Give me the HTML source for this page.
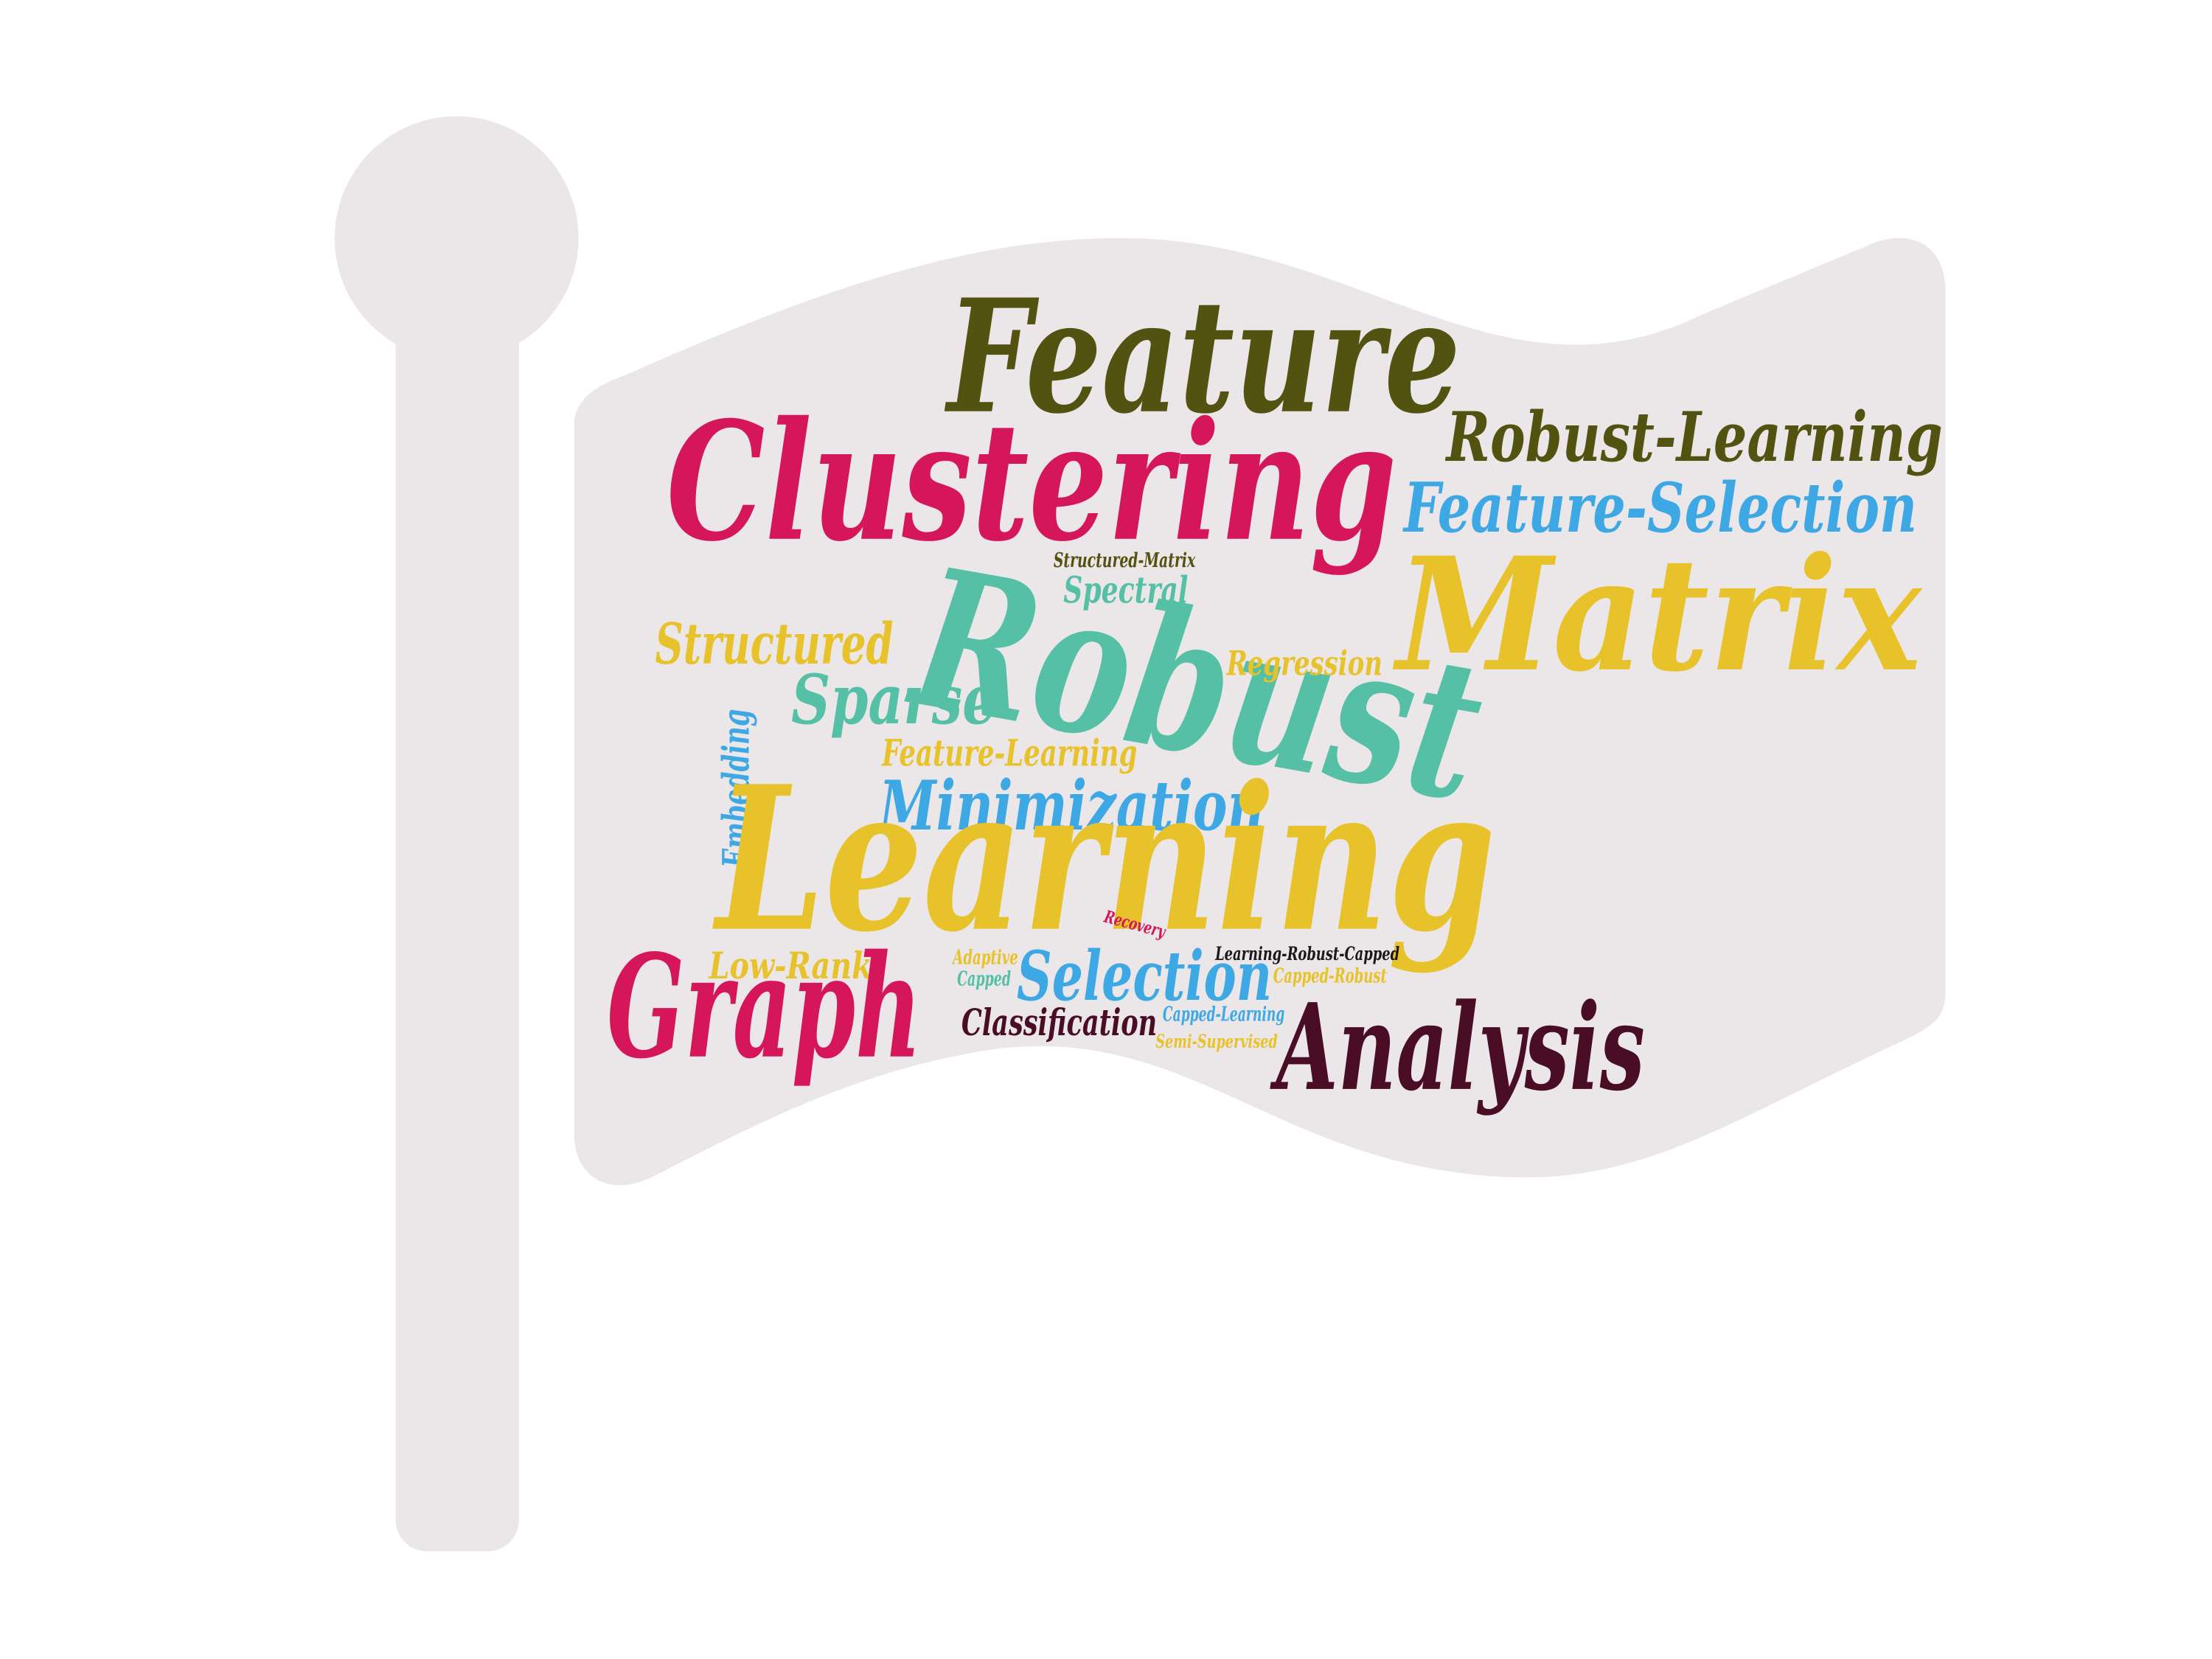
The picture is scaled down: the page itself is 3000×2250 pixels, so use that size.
<!DOCTYPE html>
<html><head><meta charset="utf-8"><style>
html,body{margin:0;padding:0;background:#fff;}
svg{display:block;}
text{font-family:"DejaVu Serif","Liberation Serif",serif;font-weight:bold;font-style:italic;}
</style></head><body>
<svg width="3000" height="2250" viewBox="0 0 1560 1170">
<g fill="#ebe6e8">
<circle cx="322" cy="168" r="86"/>
<rect x="279" y="170" width="87" height="924" rx="22"/>
<path d="M405 300 C405 282 420 272 440 265 C560 212 680 165 800 168 C960 172 1060 290 1200 222 L1320 172 C1350 160 1372 175 1372 205 L1372 700 C1372 720 1360 725 1340 735 C1220 790 1160 835 1060 830 C900 822 840 722 700 740 C600 755 520 800 460 830 C430 845 405 830 405 800 Z"/>
</g>
<g>
<text x="668" y="290" font-size="110" fill="#525211" textLength="362" lengthAdjust="spacingAndGlyphs">Feature</text>
<text x="470" y="380" font-size="115" fill="#d6165a" textLength="515" lengthAdjust="spacingAndGlyphs">Clustering</text>
<text x="1020" y="325" font-size="48" fill="#525211" textLength="350" lengthAdjust="spacingAndGlyphs">Robust-Learning</text>
<text x="990" y="375" font-size="48" fill="#3ea8e5" textLength="362" lengthAdjust="spacingAndGlyphs">Feature-Selection</text>
<text x="985" y="472" font-size="110" fill="#e8c22a" textLength="370" lengthAdjust="spacingAndGlyphs">Matrix</text>
<text x="640" y="495" font-size="135" fill="#55c0a5" textLength="400" lengthAdjust="spacingAndGlyphs" transform="rotate(10 640 495)">Robust</text>
<text x="743" y="400" font-size="14" fill="#525211" textLength="100" lengthAdjust="spacingAndGlyphs">Structured-Matrix</text>
<text x="750" y="425" font-size="26" fill="#55c0a5" textLength="88" lengthAdjust="spacingAndGlyphs">Spectral</text>
<text x="462" y="468" font-size="40" fill="#e8c22a" textLength="168" lengthAdjust="spacingAndGlyphs">Structured</text>
<text x="865" y="476" font-size="24" fill="#e8c22a" textLength="110" lengthAdjust="spacingAndGlyphs">Regression</text>
<text x="558" y="510" font-size="48" fill="#55c0a5" textLength="145" lengthAdjust="spacingAndGlyphs">Sparse</text>
<text x="622" y="540" font-size="26" fill="#e8c22a" textLength="180" lengthAdjust="spacingAndGlyphs">Feature-Learning</text>
<text x="620" y="585" font-size="48" fill="#3ea8e5" textLength="272" lengthAdjust="spacingAndGlyphs">Minimization</text>
<text x="528" y="612" font-size="26" fill="#3ea8e5" textLength="112" lengthAdjust="spacingAndGlyphs" transform="rotate(-90 528 612)">Embedding</text>
<text x="505" y="655" font-size="140" fill="#e8c22a" textLength="550" lengthAdjust="spacingAndGlyphs">Learning</text>
<text x="778" y="650" font-size="12" fill="#d6165a" textLength="44" lengthAdjust="spacingAndGlyphs" transform="rotate(15 778 650)">Recovery</text>
<text x="857" y="677" font-size="13" fill="#1a1a1a" textLength="130" lengthAdjust="spacingAndGlyphs">Learning-Robust-Capped</text>
<text x="672" y="680" font-size="14" fill="#e8c22a" textLength="46" lengthAdjust="spacingAndGlyphs">Adaptive</text>
<text x="675" y="695" font-size="14" fill="#55c0a5" textLength="38" lengthAdjust="spacingAndGlyphs">Capped</text>
<text x="717" y="705" font-size="48" fill="#3ea8e5" textLength="180" lengthAdjust="spacingAndGlyphs">Selection</text>
<text x="500" y="690" font-size="26" fill="#e8c22a" textLength="115" lengthAdjust="spacingAndGlyphs">Low-Rank</text>
<text x="898" y="693" font-size="14" fill="#e8c22a" textLength="80" lengthAdjust="spacingAndGlyphs">Capped-Robust</text>
<text x="428" y="745" font-size="100" fill="#d6165a" textLength="222" lengthAdjust="spacingAndGlyphs">Graph</text>
<text x="678" y="730" font-size="26" fill="#4a0d26" textLength="138" lengthAdjust="spacingAndGlyphs">Classification</text>
<text x="820" y="720" font-size="14" fill="#3ea8e5" textLength="86" lengthAdjust="spacingAndGlyphs">Capped-Learning</text>
<text x="815" y="739" font-size="13" fill="#e8c22a" textLength="86" lengthAdjust="spacingAndGlyphs">Semi-Supervised</text>
<text x="900" y="768" font-size="84" fill="#4a0d26" textLength="260" lengthAdjust="spacingAndGlyphs">Analysis</text>
</g>
</svg>
</body></html>
